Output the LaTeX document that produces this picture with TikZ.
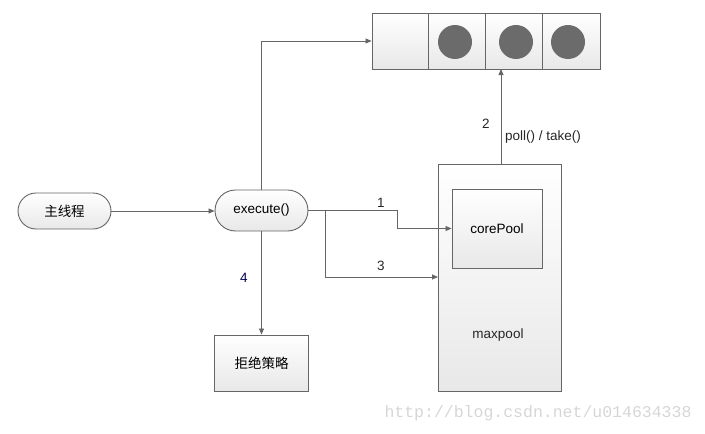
\documentclass[tikz,border=0pt]{standalone}
\usepackage{fontspec}
\setmainfont{Liberation Sans}
\newfontfamily\cjk{Noto Sans CJK SC}
\newfontfamily\wmfont{Liberation Mono}
\usetikzlibrary{arrows.meta,shapes.misc}
\definecolor{edgegray}{HTML}{666666}
\definecolor{dotgray}{HTML}{6B6B6B}
\definecolor{wmgray}{HTML}{D6D6D6}
\tikzset{
  boxbase/.style={draw=edgegray, line width=0.9pt, top color=white, bottom color=black!9, inner sep=0pt, font=\fontsize{13.5}{16}\selectfont},
  box/.style={boxbase, rectangle},
  term/.style={boxbase, rounded rectangle},
  arr/.style={draw=edgegray, line width=0.8pt, -{Triangle[length=6pt,width=5pt]}},
  lbl/.style={font=\fontsize{13.5}{16}\selectfont, text=black!85, inner sep=0pt},
  dot/.style={circle, fill=dotgray, minimum size=34pt, inner sep=0pt}
}
\begin{document}
\begin{tikzpicture}[x=1pt,y=-1pt]
\useasboundingbox (0,0) rectangle (705,434);
% queue
\node[box, minimum width=228pt, minimum height=56pt] (q) at (486,41) {};
\coordinate (d1t) at (428,13); \coordinate (d1b) at (428,69);
\coordinate (d2t) at (485,13); \coordinate (d2b) at (485,69);
\coordinate (d3t) at (542,13); \coordinate (d3b) at (542,69);
\draw[edgegray, line width=0.9pt] (d1t) -- (d1b) (d2t) -- (d2b) (d3t) -- (d3b);
\node[dot] (c1) at (455,42) {};
\node[dot] (c2) at (516,42) {};
\node[dot] (c3) at (568,42) {};
% nodes
\node[term, minimum width=93pt, minimum height=36pt] (main) at (64.5,211) {\cjk 主线程};
\node[term, minimum width=93pt, minimum height=41pt] (exec) at (261.5,210.5) {execute()};
\node[box, minimum width=94pt, minimum height=56pt] (reject) at (261.5,363) {\cjk 拒绝策略};
\node[box, minimum width=123pt, minimum height=227pt] (max) at (499.5,277.5) {};
\node[lbl] (maxl) at (498,335) {maxpool};
\node[box, minimum width=90pt, minimum height=79pt] (core) at (497,228.5) {corePool};
% connectors
\draw[arr] (main.east) -- (main.east -| exec.west);
\draw[arr] (exec.north) |- (q.west);
\coordinate (bend1) at (397,210.5);
\draw[arr] (exec.east) -- (bend1) |- (core.west);
\coordinate (br) at (325,210.5);
\coordinate (in3) at (438,277);
\draw[arr] (br) |- (in3);
\draw[arr] (exec.south) -- (reject.north);
\coordinate (up0) at (501,164);
\coordinate (up1) at (501,69);
\draw[arr] (up0) -- (up1);
% labels
\node[lbl] (l1) at (381,203) {1};
\node[lbl] (l3) at (381,266) {3};
\node[lbl, text=black!70!blue] (l4) at (244,278) {4};
\node[lbl] (l2) at (486,124) {2};
\node[lbl, anchor=west] (lp) at (505,137) {poll() / take()};
% watermark
\node[font=\wmfont\fontsize{16.5}{18}\selectfont, text=wmgray, inner sep=0pt] (wm) at (538,413) {http://blog.csdn.net/u014634338};
\end{tikzpicture}
\end{document}
